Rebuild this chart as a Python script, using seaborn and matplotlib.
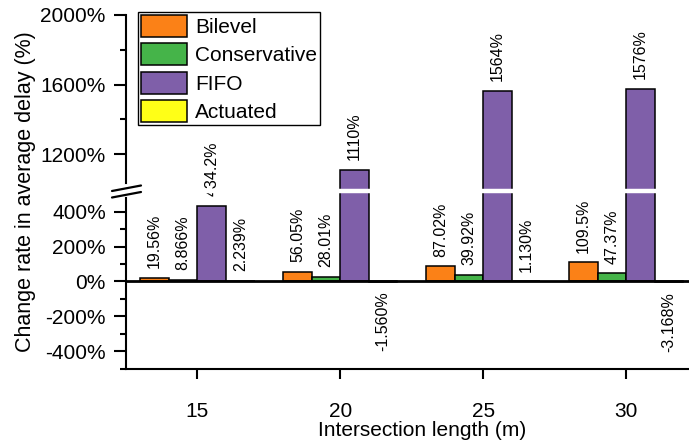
import numpy as np
import pandas as pd
import matplotlib
matplotlib.use('Agg')
import matplotlib.pyplot as plt
import seaborn as sns
from matplotlib.lines import Line2D

# data
lengths = ['15', '20', '25', '30']
methods = ['Bilevel', 'Conservative', 'FIFO', 'Actuated']
bilevel = [19.56, 56.05, 87.02, 109.5]
conservative = [8.866, 28.01, 39.92, 47.37]
fifo = [434.2, 1110, 1564, 1576]
actuated = [2.239, -1.560, 1.130, -3.168]

bilevel_labels = ['19.56%', '56.05%', '87.02%', '109.5%']
conservative_labels = ['8.866%', '28.01%', '39.92%', '47.37%']
fifo_labels = ['434.2%', '1110%', '1564%', '1576%']
actuated_labels = ['2.239%', '-1.560%', '1.130%', '-3.168%']

colors = {'Bilevel': '#fb8117', 'Conservative': '#45b449',
          'FIFO': '#7f5fa9', 'Actuated': '#ffff17'}

df = pd.DataFrame({
    'length': lengths * 4,
    'method': np.repeat(methods, 4),
    'value': bilevel + conservative + fifo + actuated,
})

# broken axis: values between B1 and B2 are squeezed out
B1, B2, G = 520.0, 990.0, 1.0


def fwd(y):
    y = np.asarray(y, dtype=float)
    return np.where(y <= B1, y,
                    np.where(y >= B2, y - (B2 - B1) + G,
                             B1 + (y - B1) * G / (B2 - B1)))


def inv(z):
    z = np.asarray(z, dtype=float)
    return np.where(z <= B1, z,
                    np.where(z >= B1 + G, z + (B2 - B1) - G,
                             B1 + (z - B1) * (B2 - B1) / G))


sns.set_style('ticks')
plt.rcParams['font.family'] = ['Liberation Sans', 'DejaVu Sans']
for k in ('text.color', 'axes.labelcolor', 'xtick.color', 'ytick.color', 'axes.edgecolor'):
    plt.rcParams[k] = 'black'

fig = plt.figure(figsize=(6.89, 4.45), dpi=100)
# axes run a bit past the right edge of the figure, as in the reference
ax = fig.add_axes([126 / 689, 1 - 368.5 / 445, (719 - 126) / 689, (368.5 - 15) / 445])
ax.set_yscale('function', functions=(fwd, inv))

sns.barplot(data=df, x='length', y='value', hue='method', hue_order=methods,
            palette=colors, saturation=1, edgecolor='black', linewidth=1.1, width=0.8,
            errorbar=None, ax=ax, zorder=2)

ax.set_xlim(-0.5, 3.65)
ax.set_ylim(-500, 2000)
ax.set_yticks([-400, -200, 0, 200, 400, 1200, 1600, 2000])
ax.set_yticklabels(['-400%', '-200%', '0%', '200%', '400%', '1200%', '1600%', '2000%'])
ax.set_yticks([-500, -300, -100, 100, 300, 1400, 1800], minor=True)

ax.axhline(0, color='black', lw=2, zorder=3)

all_labels = [bilevel_labels, conservative_labels, fifo_labels, actuated_labels]
for cont, labs in zip(ax.containers, all_labels):
    ax.bar_label(cont, labels=labs, rotation=90, padding=7, fontsize=11.5, zorder=4)

# white gap across the plot at the break
ybrk = B1 + G / 2
ax.plot([0.004, 1], [ybrk, ybrk], color='white', lw=3.2,
        transform=ax.get_yaxis_transform(), zorder=6, solid_capstyle='butt', clip_on=False)
# gap in the spine and the break marks (figure pixels)
fig.add_artist(Line2D([126 / 689, 126 / 689], [1 - 186 / 445, 1 - 195 / 445],
                      color='white', lw=3, zorder=10))
for dy in (0, 6.5):
    fig.add_artist(Line2D([112 / 689, 141 / 689],
                          [1 - (191 + dy) / 445, 1 - (185.5 + dy) / 445],
                          color='black', lw=1.6, zorder=11))

sns.despine(ax=ax)
for s in ('left', 'bottom'):
    ax.spines[s].set_linewidth(1.5)
ax.tick_params(axis='y', which='major', direction='out', length=8.5, width=1.5,
               labelsize=15, pad=6)
ax.tick_params(axis='y', which='minor', direction='out', length=4.3, width=1.5)
ax.tick_params(axis='x', which='major', direction='out', length=7, width=1.5,
               labelsize=15, pad=17)

ax.set_xlabel('Intersection length (m)', fontsize=15, labelpad=0)
ax.set_ylabel('Change rate in average delay (%)', fontsize=15.5, labelpad=3)

handles, labels = ax.get_legend_handles_labels()
leg = ax.legend(handles, labels, loc='upper left', bbox_to_anchor=(12 / 593, 1.0085),
                borderaxespad=0, fontsize=15, handlelength=2.2, handleheight=1.25,
                labelspacing=0.3, handletextpad=0.4, borderpad=0.15,
                fancybox=False, framealpha=1, edgecolor='black')
leg.get_frame().set_linewidth(1.0)

fig.savefig('out.png', dpi=100)
